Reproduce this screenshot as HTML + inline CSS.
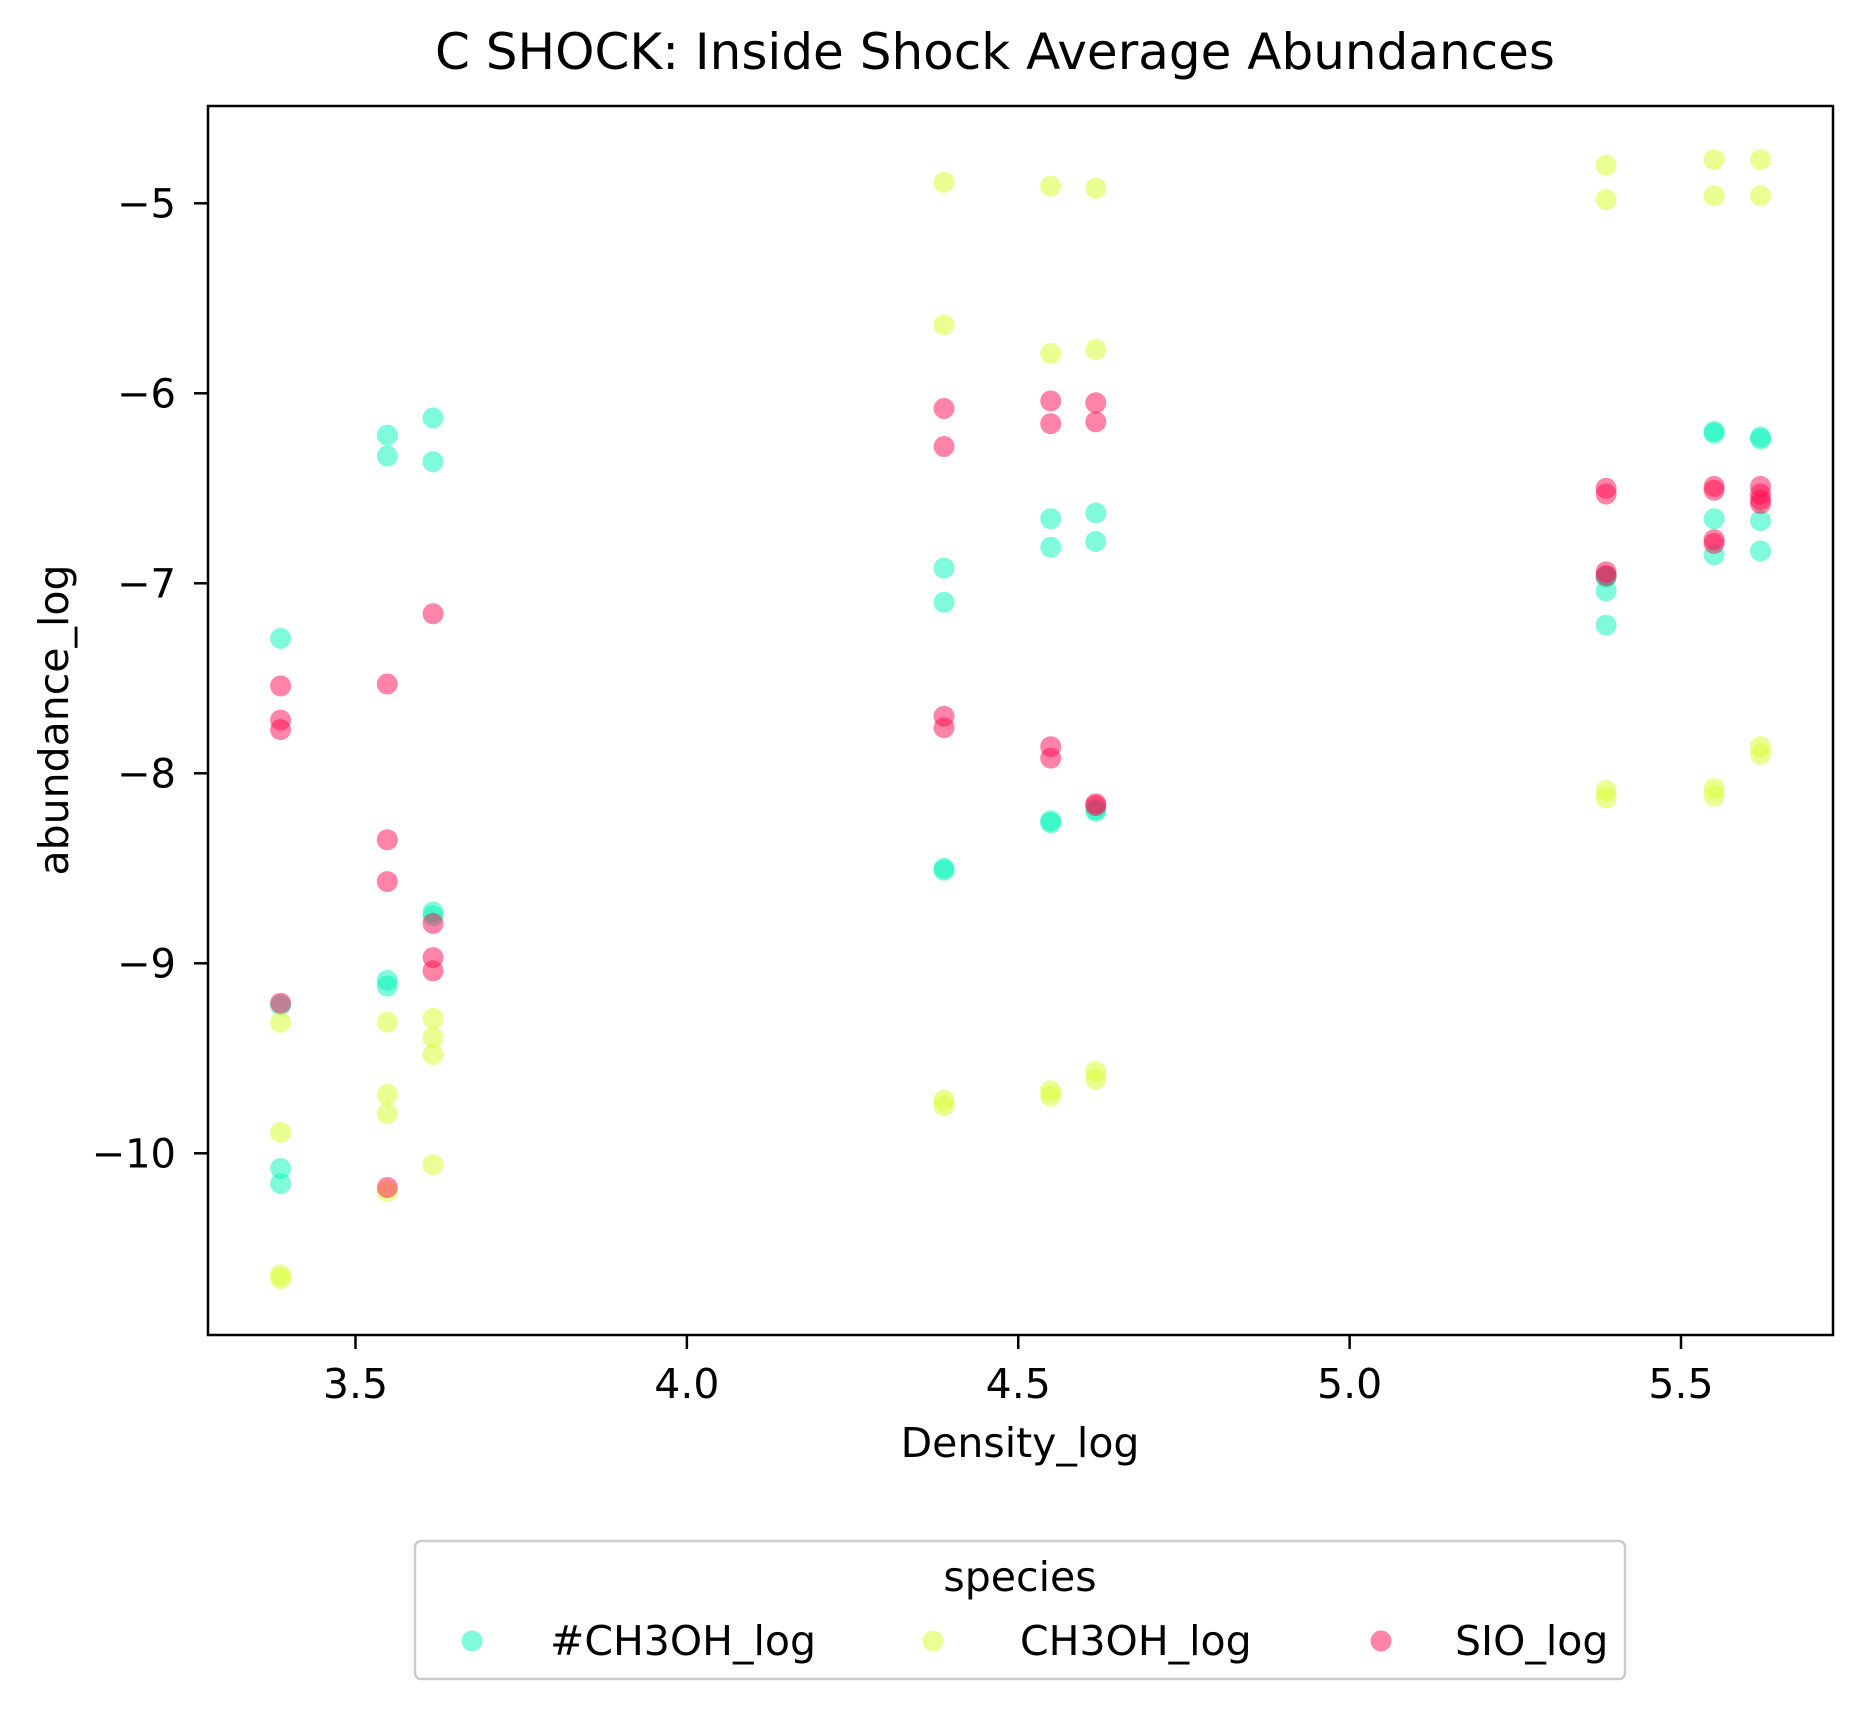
<!DOCTYPE html>
<html><head><meta charset="utf-8"><style>
body{margin:0;background:#fff}
svg text{font-family:"DejaVu Sans","Liberation Sans",sans-serif;fill:#000}
</style></head><body>
<svg id="chart" width="1864" height="1709" xmlns="http://www.w3.org/2000/svg">
<text x="995" y="69" font-size="50" text-anchor="middle">C SHOCK: Inside Shock Average Abundances</text>
<g id="marks"></g>
<rect x="208" y="106" width="1625" height="1229" fill="none" stroke="#000" stroke-width="2.5"/>
<g id="axes"></g>
<text x="1020" y="1457" font-size="41" text-anchor="middle">Density_log</text>
<text transform="translate(68,720) rotate(-90)" font-size="41" text-anchor="middle">abundance_log</text>
<g>
<rect x="415" y="1541" width="1210" height="138" rx="6" fill="#fff" stroke="#ccc" stroke-width="2.5"/>
<text x="1020" y="1591" font-size="41" text-anchor="middle">species</text>
<circle cx="472" cy="1641" r="10.5" fill="#00f5b8" fill-opacity="0.5"/>
<text x="550" y="1655" font-size="41">#CH3OH_log</text>
<circle cx="933" cy="1641" r="10.5" fill="#d8ff38" fill-opacity="0.55"/>
<text x="1020" y="1655" font-size="41">CH3OH_log</text>
<circle cx="1381" cy="1641" r="10.5" fill="#ff0a50" fill-opacity="0.5"/>
<text x="1455" y="1655" font-size="41">SIO_log</text>
</g>
</svg>
<script>
const xTicks=[3.5,4.0,4.5,5.0,5.5];
const xTickLabels=["3.5","4.0","4.5","5.0","5.5"];
const yTicks=[-5,-6,-7,-8,-9,-10];
const yTickLabels=["\u22125","\u22126","\u22127","\u22128","\u22129","\u221210"];
const iceX=[3.387,3.387,3.387,3.387,3.548,3.548,3.548,3.548,3.617,3.617,3.617,3.617,4.388,4.388,4.388,4.388,4.549,4.549,4.549,4.549,4.617,4.617,4.617,4.617,5.387,5.387,5.387,5.387,5.55,5.55,5.55,5.55,5.62,5.62,5.62,5.62];
const iceY=[-7.29,-9.22,-10.08,-10.16,-6.22,-6.33,-9.09,-9.12,-6.13,-6.36,-8.73,-8.75,-6.92,-7.10,-8.50,-8.51,-6.66,-6.81,-8.25,-8.26,-6.63,-6.78,-8.19,-8.20,-7.04,-7.22,-6.96,-6.97,-6.20,-6.21,-6.66,-6.85,-6.23,-6.24,-6.67,-6.83];
const gasX=[3.387,3.387,3.387,3.387,3.548,3.548,3.548,3.548,3.617,3.617,3.617,3.617,4.388,4.388,4.388,4.388,4.549,4.549,4.549,4.549,4.617,4.617,4.617,4.617,5.387,5.387,5.387,5.387,5.55,5.55,5.55,5.55,5.62,5.62,5.62,5.62];
const gasY=[-9.31,-9.89,-10.64,-10.66,-9.31,-9.69,-9.79,-10.2,-9.29,-9.39,-9.48,-10.06,-4.89,-5.64,-9.72,-9.75,-4.91,-5.79,-9.67,-9.70,-4.92,-5.77,-9.57,-9.61,-4.80,-4.98,-8.09,-8.13,-4.77,-4.96,-8.08,-8.12,-4.77,-4.96,-7.86,-7.90];
const sioX=[3.387,3.387,3.387,3.387,3.548,3.548,3.548,3.548,3.617,3.617,3.617,3.617,4.388,4.388,4.388,4.388,4.549,4.549,4.549,4.549,4.617,4.617,4.617,4.617,5.387,5.387,5.387,5.387,5.55,5.55,5.55,5.55,5.62,5.62,5.62,5.62];
const sioY=[-7.54,-7.72,-7.77,-9.21,-7.53,-8.35,-8.57,-10.18,-7.16,-8.79,-8.97,-9.04,-6.08,-6.28,-7.70,-7.76,-6.04,-6.16,-7.86,-7.92,-6.05,-6.15,-8.16,-8.17,-6.50,-6.53,-6.94,-6.96,-6.49,-6.51,-6.77,-6.79,-6.49,-6.53,-6.56,-6.58];
const NS="http://www.w3.org/2000/svg";
function xs(v){return 355.5+(v-3.5)*662.75;}
function ys(v){return 203.3+(-5-v)*190;}
const marks=document.getElementById('marks');
function plot(X,Y,color,op,name){
  for(let i=0;i<X.length;i++){
    const c=document.createElementNS(NS,'circle');
    c.setAttribute('cx',xs(X[i]));c.setAttribute('cy',ys(Y[i]));c.setAttribute('r',10.5);
    c.setAttribute('fill',color);c.setAttribute('fill-opacity',op);
    
    
    marks.appendChild(c);
  }
}
plot(iceX,iceY,'#00f5b8',0.5,'point-ch3oh-ice');
plot(gasX,gasY,'#d8ff38',0.55,'point-ch3oh');
plot(sioX,sioY,'#ff0a50',0.5,'point-sio');
const axes=document.getElementById('axes');
xTicks.forEach((t,i)=>{
  const x=xs(t);
  const l=document.createElementNS(NS,'line');
  l.setAttribute('x1',x);l.setAttribute('x2',x);l.setAttribute('y1',1335);l.setAttribute('y2',1349);l.setAttribute('stroke','#000');l.setAttribute('stroke-width',2.5);
  
  
  axes.appendChild(l);
  const tx=document.createElementNS(NS,'text');
  tx.setAttribute('x',x);tx.setAttribute('y',1398);tx.setAttribute('font-size',41);tx.setAttribute('text-anchor','middle');
  tx.textContent=xTickLabels[i];
  
  
  axes.appendChild(tx);
});
yTicks.forEach((t,i)=>{
  const y=ys(t);
  const l=document.createElementNS(NS,'line');
  l.setAttribute('x1',194);l.setAttribute('x2',208);l.setAttribute('y1',y);l.setAttribute('y2',y);l.setAttribute('stroke','#000');l.setAttribute('stroke-width',2.5);
  
  
  axes.appendChild(l);
  const tx=document.createElementNS(NS,'text');
  tx.setAttribute('x',176);tx.setAttribute('y',y+14);tx.setAttribute('font-size',40);tx.setAttribute('text-anchor','end');
  tx.textContent=yTickLabels[i];
  
  
  axes.appendChild(tx);
});
</script>
</body></html>
